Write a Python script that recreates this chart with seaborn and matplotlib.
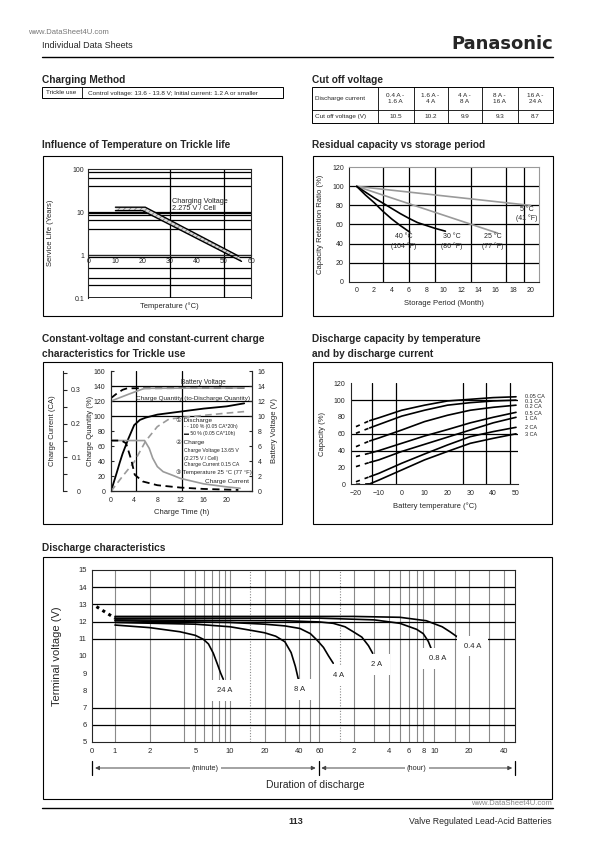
import matplotlib
matplotlib.use("Agg")
import matplotlib.pyplot as plt
import matplotlib.patches as mpatches
from matplotlib.lines import Line2D
import numpy as np
import seaborn as sns

W, H = 595, 842

# ---------------- data ----------------
cut_currents = ["0.4 A -\n1.6 A", "1.6 A -\n4 A", "4 A -\n8 A", "8 A -\n16 A", "16 A -\n24 A"]
cut_voltages = ["10.5", "10.2", "9.9", "9.3", "8.7"]

# trickle life (years) vs temperature
life_temp_upper = [10, 21, 55.5]
life_years_upper = [13, 13, 0.95]
life_temp_lower = [10, 20, 56.5]
life_years_lower = [10.8, 10.8, 0.72]
life_grid = [0.2, 0.3, 0.5, 0.9, 1, 4, 6.5, 8.5, 9.3, 10, 40, 62, 86]

# residual capacity (%) vs storage months
store_5c_m = [0, 20]
store_5c = [100, 80]
store_25c_m = [0, 16.2]
store_25c = [100, 51]
store_30c_m = [0, 1, 2, 3, 4, 5, 6, 7, 8, 9, 10.2]
store_30c = [100, 94, 88, 82.5, 77, 71.5, 66.5, 62, 59, 56, 53]
store_40c_m = [0, 1, 2, 3, 4, 5, 6.1]
store_40c = [100, 91, 83, 74, 66, 59, 52]

# charge characteristics (hours)
chg_cur100_h = [0, 5.8, 6.6, 7.2, 8, 9, 10.7, 12, 16, 20, 22.3]
chg_cur100 = [0.15, 0.15, 0.127, 0.098, 0.073, 0.058, 0.047, 0.038, 0.022, 0.013, 0.009]
chg_cur50_h = [0, 1.8, 2.6, 3.5, 4.1, 5.5, 8, 12, 16, 22]
chg_cur50 = [0.15, 0.15, 0.142, 0.093, 0.049, 0.029, 0.018, 0.011, 0.007, 0.004]
chg_q50_h = [0, 1, 1.5, 2, 3, 4, 5, 6, 8, 12, 16, 20, 23]
chg_q50 = [0, 25, 38, 50, 70, 88, 95, 98, 102, 106, 110, 113, 117]
chg_q100_h = [0, 2, 4, 6, 8, 10, 12, 16, 20, 23]
chg_q100 = [0, 20, 39, 67, 86, 96, 98, 101, 104, 106]
chg_v50_h = [0, 1, 2, 2.8, 23]
chg_v50 = [12.4, 13.0, 13.5, 13.7, 13.75]
chg_v100_h = [0, 3, 5.8, 23]
chg_v100 = [12.0, 12.9, 13.7, 13.75]

# discharge capacity (%) vs temperature
cap_temp = [-20, -14, -10, 0, 10, 20, 30, 40, 50]
cap_005 = [68.5, 75.6, 79, 88, 94, 99, 101, 103, 104]
cap_01 = [60.6, 67, 71, 81, 88, 94, 97, 99, 100]
cap_02 = [44.7, 51.5, 55, 64.5, 74.5, 82, 88, 91.5, 94]
cap_05 = [33, 37, 40, 48.7, 57.4, 65, 73, 79.6, 85.5]
cap_1 = [21, 26, 29, 39, 47.5, 56, 64.5, 73, 79.6]
cap_2 = [3, 9, 13, 25, 36, 46.7, 56.6, 62.6, 67.7]
cap_3 = [0, 0.5, 5, 17, 29, 39, 48.7, 54.6, 60]
cap_names = ["0.05 CA", "0.1 CA", "0.2 CA", "0.5 CA", "1 CA", "2 CA", "3 CA"]

# discharge characteristics (minutes, volts)
dis_start_t = [0.69, 1.0]
dis_start_v = [12.87, 12.2]
dis_24a_t = [1, 2, 3.67, 5, 5.87, 6.5, 7.16, 7.8, 8.3, 8.74]
dis_24a_v = [11.8, 11.65, 11.41, 11.2, 10.97, 10.7, 10.16, 9.5, 9.0, 8.65]
dis_8a_t = [1, 5, 10, 15, 20, 25, 30, 34, 37, 39.3]
dis_8a_v = [11.95, 11.85, 11.7, 11.5, 11.35, 11.15, 10.83, 10.2, 9.4, 8.65]
dis_4a_t = [1, 10, 20, 30, 40.6, 50, 57, 65, 72, 79]
dis_4a_v = [12.05, 11.95, 11.85, 11.75, 11.6, 11.3, 10.93, 10.5, 10.0, 9.58]
dis_2a_t = [1, 30, 60, 79, 100, 118, 140, 160, 174]
dis_2a_v = [12.1, 12.05, 11.98, 11.9, 11.7, 11.41, 11.1, 10.6, 10.16]
dis_08a_t = [1, 60, 180, 300, 420, 479, 530, 568]
dis_08a_v = [12.2, 12.2, 12.1, 11.9, 11.55, 11.3, 10.85, 10.35]
dis_04a_t = [1, 120, 300, 510, 700, 818, 1000, 1143]
dis_04a_v = [12.3, 12.3, 12.25, 12.05, 11.7, 11.41, 11.0, 10.7]
dis_labels = ["24 A", "8 A", "4 A", "2 A", "0.8 A", "0.4 A"]
dis_label_t = [9.04, 40, 87.7, 190, 638, 1280]
dis_label_v = [8.02, 8.06, 8.84, 9.53, 9.87, 10.58]
dis_ticks = [0.635, 1, 2, 5, 10, 20, 40, 60, 120, 240, 360, 480, 600, 1200, 2400]
dis_tick_labels = ["0", "1", "2", "5", "10", "20", "40", "60", "2", "4", "6", "8", "10", "20", "40"]
dis_grid = [1, 2, 4, 5, 6, 7, 8, 9, 10, 20, 30, 40, 50, 60, 120, 180, 240, 300,
            360, 420, 480, 600, 900, 1200, 1800, 2400]

# ---------------- setup ----------------
sns.set_style("white")
plt.rcParams['font.family'] = ['Liberation Sans', 'DejaVu Sans', 'Noto Sans CJK JP']
plt.rcParams['axes.linewidth'] = 0.8
plt.rcParams['hatch.linewidth'] = 0.6

fig = plt.figure(figsize=(W / 100, H / 100), dpi=100)


def add_ax(x0, y0, x1, y1):
    return fig.add_axes([x0 / W, 1 - y1 / H, (x1 - x0) / W, (y1 - y0) / H])


def ftext(x, y, s, **kw):
    kw.setdefault('va', 'center')
    fig.text(x / W, 1 - y / H, s, **kw)


def fline(xs, ys, **kw):
    kw.setdefault('color', 'k')
    kw.setdefault('lw', 0.8)
    fig.add_artist(Line2D([x / W for x in xs], [1 - y / H for y in ys],
                          transform=fig.transFigure, **kw))


def frect(x0, y0, x1, y1, lw=0.8):
    fig.add_artist(mpatches.Rectangle((x0 / W, 1 - y1 / H), (x1 - x0) / W, (y1 - y0) / H,
                                      transform=fig.transFigure, fill=False, lw=lw, ec='k'))


def line(ax, x, y, **kw):
    kw.setdefault('color', 'k')
    kw.setdefault('lw', 1.1)
    sns.lineplot(x=x, y=y, ax=ax, estimator=None, sort=False, legend=False, **kw)


TICK = 5
TITLE = 7.3

# ---------------- header ----------------
ftext(28, 33, "www.DataSheet4U.com", fontsize=5.5, color='#777777')
ftext(42, 46, "Individual Data Sheets", fontsize=6.5)
ftext(553, 44, "Panasonic", fontsize=13, fontweight='bold', ha='right',
      family=['DejaVu Sans'])
fline([42, 553], [57, 57], lw=1.0)

# charging method table
ftext(42, 80, "Charging Method", fontsize=TITLE, fontweight='bold')
frect(41.7, 87.3, 282.6, 98.3, lw=0.7)
fline([81.6, 81.6], [87.3, 98.3], lw=0.6)
ftext(61.6, 93, "Trickle use", fontsize=4.6, ha='center')
ftext(88, 93, "Control voltage: 13.6 - 13.8 V; Initial current: 1.2 A or smaller", fontsize=4.6)

# cut off table
ftext(312, 80, "Cut off voltage", fontsize=TITLE, fontweight='bold')
frect(311.8, 87.3, 553, 123.3, lw=0.7)
fline([311.8, 553], [110, 110], lw=0.6)
col_edges = [311.8, 377.5, 413.5, 447.6, 481.8, 517.8, 553]
for cx in col_edges[1:-1]:
    fline([cx, cx], [87.3, 123.3], lw=0.6)
ftext(315, 98.7, "Discharge current", fontsize=4.6)
ftext(315, 116.7, "Cut off voltage (V)", fontsize=4.6)
for i, (c, v) in enumerate(zip(cut_currents, cut_voltages)):
    mx = (col_edges[i + 1] + col_edges[i + 2]) / 2
    ftext(mx, 98.7, c, fontsize=4.6, ha='center', linespacing=1.3)
    ftext(mx, 116.7, v, fontsize=4.6, ha='center')

# ---------------- chart 1: trickle life ----------------
ftext(42, 145, "Influence of Temperature on Trickle life", fontsize=TITLE, fontweight='bold')
frect(42.7, 156, 282, 316)
ax1 = add_ax(88.3, 169, 251, 298.3)
ax1.set_yscale('log')
ax1.set_xlim(0, 60)
ax1.set_ylim(0.1, 100)
for v in life_grid:
    ax1.axhline(v, color='k', lw=0.9, zorder=1)
ax1.axhline(0.1, color='k', lw=1.2, zorder=1)
for v in [30, 50]:
    ax1.axvline(v, color='k', lw=0.9, zorder=1)
ax1.fill(np.r_[life_temp_upper, life_temp_lower[::-1]],
         np.r_[life_years_upper, life_years_lower[::-1]],
         facecolor='#d8d8d8', edgecolor='#7a7a7a', hatch='//////', lw=0, zorder=2)
line(ax1, life_temp_upper, life_years_upper, lw=1.0, zorder=3)
line(ax1, life_temp_lower, life_years_lower, lw=1.0, zorder=3)
ax1.spines['bottom'].set_position(('data', 1))
ax1.set_xticks(range(0, 61, 10))
ax1.set_xticklabels([str(v) for v in range(0, 61, 10)])
ax1.set_yticks([0.1, 1, 10, 100])
ax1.set_yticklabels(["0.1", "1", "10", "100"])
ax1.yaxis.set_minor_locator(matplotlib.ticker.LogLocator(subs=(2, 5)))
ax1.yaxis.set_minor_formatter(matplotlib.ticker.NullFormatter())
ax1.tick_params(axis='x', direction='in', length=3, width=0.8, labelsize=TICK, pad=2)
ax1.tick_params(axis='y', which='both', direction='in', length=2, width=0.8, labelsize=TICK, pad=3)
ax1.set_xlabel("")
ax1.set_ylabel("")
ax1.text(0.5, -0.06, "Temperature (°C)", transform=ax1.transAxes, ha='center', va='center',
         fontsize=5.5)
ftext(50, 233, "Service Life (Years)", fontsize=5.5, rotation=90, ha='center')
ax1.text(30.8, 14.5, "Charging Voltage\n2.275 V / Cell", fontsize=5.3, va='center',
         linespacing=1.1, zorder=4)

# ---------------- chart 2: residual capacity ----------------
ftext(312, 145, "Residual capacity vs storage period", fontsize=TITLE, fontweight='bold')
frect(312.7, 155.7, 553, 315.7)
ax2 = add_ax(349.3, 167.3, 539.3, 281.7)
ax2.set_xlim(-0.85, 21)
ax2.set_ylim(0, 120)
for v in [20, 40, 60, 80, 100]:
    ax2.axhline(v, color='k', lw=0.9, zorder=1)
for v in [3, 6, 9, 13.2, 17.2, 19.2]:
    ax2.axvline(v, color='k', lw=0.9, zorder=1)
line(ax2, store_5c_m, store_5c, color='#9a9a9a', lw=1.2)
line(ax2, store_25c_m, store_25c, color='#9a9a9a', lw=1.2)
line(ax2, store_30c_m, store_30c, lw=1.2)
line(ax2, store_40c_m, store_40c, lw=1.2)
for s in ['top', 'right']:
    ax2.spines[s].set_color('#9a9a9a')
ax2.set_xticks(range(0, 21, 2))
ax2.set_yticks(range(0, 121, 20))
ax2.tick_params(direction='in', length=3, width=0.8, labelsize=TICK, pad=4)
ax2.set_xlabel("Storage Period (Month)", fontsize=5.5, labelpad=4)
ax2.set_ylabel("Capacity Retention Ratio (%)", fontsize=5.5, labelpad=6)
for tx, ty, s in [(5.4, 42, "40 °C\n(104 °F)"), (10.9, 42, "30 °C\n(86 °F)"),
                  (15.6, 42, "25 °C\n(77 °F)"), (19.6, 71, "5 °C\n(41 °F)")]:
    ax2.text(tx, ty, s, fontsize=5, ha='center', va='center', linespacing=1.3)

# ---------------- chart 3: charge characteristics ----------------
ftext(42, 339, "Constant-voltage and constant-current charge", fontsize=TITLE, fontweight='bold')
ftext(42, 354, "characteristics for Trickle use", fontsize=TITLE, fontweight='bold')
frect(42.7, 362, 282, 524)
ax3 = add_ax(111, 371, 252.3, 491.3)
ax3.set_xlim(0, 24.4)
ax3.set_ylim(0, 160)
axv = ax3.twinx()
axv.set_ylim(0, 16)
axc = ax3.twinx()
axc.set_ylim(0, 160 / 450)
for v in [100, 120, 140]:
    ax3.axhline(v, color='k', lw=0.9, zorder=1)
for v in [4.3, 12.2]:
    ax3.axvline(v, color='k', lw=0.9, zorder=1)
line(ax3, chg_q50_h, chg_q50, lw=1.3)
line(ax3, chg_q100_h, chg_q100, color='#9a9a9a', lw=1.2, linestyle=(0, (4, 2.5)))
line(axv, chg_v50_h, chg_v50, lw=1.3, linestyle=(0, (4, 2.5)))
line(axv, chg_v100_h, chg_v100, color='#9a9a9a', lw=1.2)
line(axc, chg_cur100_h, chg_cur100, color='#9a9a9a', lw=1.2)
line(axc, chg_cur50_h, chg_cur50, lw=1.3, linestyle=(0, (4, 2.5)))
ax3.spines['top'].set_visible(False)
axv.spines['top'].set_visible(False)
axc.spines['top'].set_visible(False)
axc.spines['right'].set_visible(False)
axc.spines['left'].set_visible(True)
axc.spines['left'].set_position(('outward', 34.6))
axc.yaxis.set_ticks_position('left')
axc.yaxis.set_label_position('left')
axc.set_yticks([0, 0.1, 0.2, 0.3])
axc.set_yticklabels(["0", "0.1", "0.2", "0.3"])
axc.yaxis.set_minor_locator(matplotlib.ticker.FixedLocator([0.05, 0.15, 0.25, 0.35]))
axc.tick_params(axis='y', which='both', direction='in', length=3, width=0.8, labelsize=TICK,
                pad=-13)
ax3.set_xticks(range(0, 21, 4))
ax3.set_yticks(range(0, 161, 20))
axv.set_yticks(range(0, 17, 2))
ax3.tick_params(direction='in', length=2.5, width=0.8, labelsize=TICK, pad=4)
axv.tick_params(direction='in', length=2.5, width=0.8, labelsize=TICK, pad=4)
ax3.set_xlabel("Charge Time (h)", fontsize=5.5, labelpad=4)
ax3.set_ylabel("")
axv.set_ylabel("")
axc.set_ylabel("")
ftext(90, 431, "Charge Quantity (%)", fontsize=5.5, rotation=90, ha='center')
ftext(53, 431, "Charge Current (CA)", fontsize=5.5, rotation=90, ha='center')
ftext(275, 431, "Battery Voltage (V)", fontsize=5.5, rotation=90, ha='center')
ftext(203, 382.7, "Battery Voltage", fontsize=4.8, ha='center')
ftext(193, 398.3, "Charge Quantity (to-Discharge Quantity)", fontsize=4.6, ha='center')
ftext(176, 420.7, "① Discharge", fontsize=4.6)
ftext(184, 426.5, "- - 100 % (0.05 CA*20h)", fontsize=3.6)
ftext(184, 433.3, "▬ 50 % (0.05 CA*10h)", fontsize=3.6)
ftext(176, 442.7, "② Charge", fontsize=4.6)
ftext(184, 450.7, "Charge Voltage 13.65 V", fontsize=3.7)
ftext(184, 458.3, "(2.275 V / Cell)", fontsize=3.7)
ftext(184, 465, "Charge Current 0.15 CA", fontsize=3.7)
ftext(176, 472.7, "③ Temperature 25 °C (77 °F)", fontsize=4.2)
ftext(205, 481.7, "Charge Current", fontsize=4.6)

# ---------------- chart 4: discharge capacity by temperature ----------------
ftext(312, 339, "Discharge capacity by temperature", fontsize=TITLE, fontweight='bold')
ftext(312, 354, "and by discharge current", fontsize=TITLE, fontweight='bold')
frect(312.7, 362.3, 552.3, 524)
ax4 = add_ax(350.7, 383.3, 518.3, 484.3)
ax4.set_xlim(-22.3, 51)
ax4.set_ylim(0, 120)
for v in [40, 60, 100]:
    ax4.axhline(v, color='k', lw=0.9, zorder=1)
for v in [-13, -2.5, 27, 37, 47.5]:
    ax4.axvline(v, color='k', lw=0.9, zorder=1)
cap_series = [cap_005, cap_01, cap_02, cap_05, cap_1, cap_2, cap_3]
for vals in cap_series:
    line(ax4, cap_temp[:2], vals[:2], lw=1.2, linestyle=(0, (2.5, 3)))
    line(ax4, cap_temp[1:], vals[1:], lw=1.2)
for s in ['top', 'right']:
    ax4.spines[s].set_visible(False)
ax4.set_xticks(range(-20, 51, 10))
ax4.set_yticks(range(0, 121, 20))
ax4.tick_params(direction='in', length=2.5, width=0.8, labelsize=TICK, pad=4)
ax4.set_xlabel("Battery temperature (°C)", fontsize=5.5, labelpad=4)
ax4.set_ylabel("Capacity (%)", fontsize=5.5, labelpad=5)
for name, y in zip(cap_names, [396.7, 401.7, 407, 413.3, 418, 427.7, 434]):
    ftext(525, y, name, fontsize=4)

# ---------------- chart 5: discharge characteristics ----------------
ftext(42, 548, "Discharge characteristics", fontsize=TITLE, fontweight='bold')
frect(43.3, 557.3, 552, 799)
ax5 = add_ax(92.3, 570, 515, 742)
ax5.set_xscale('log')
ax5.set_xlim(0.635, 3008)
ax5.set_ylim(5, 15)
for v in dis_grid:
    ax5.axvline(v, color='#8a8a8a', lw=0.8, zorder=1)
for v in [15, 90]:
    ax5.axvline(v, color='#8a8a8a', lw=0.8, linestyle=(0, (1, 1.5)), zorder=1)
for v in [6, 7, 11, 12, 13, 14]:
    ax5.axhline(v, color='k', lw=0.9, zorder=1)
line(ax5, dis_start_t, dis_start_v, lw=2.2, linestyle=(0, (1, 1.3)))
for t, v in [(dis_24a_t, dis_24a_v), (dis_8a_t, dis_8a_v), (dis_4a_t, dis_4a_v),
             (dis_2a_t, dis_2a_v), (dis_08a_t, dis_08a_v), (dis_04a_t, dis_04a_v)]:
    line(ax5, t, v, lw=1.2, zorder=3)
for s, t, v in zip(dis_labels, dis_label_t, dis_label_v):
    ax5.text(t, v, s, fontsize=5.5, ha='center', va='center', zorder=4,
             bbox=dict(fc='white', ec='none', pad=5))
ax5.set_xticks(dis_ticks)
ax5.set_xticklabels(dis_tick_labels)
ax5.xaxis.set_minor_locator(matplotlib.ticker.NullLocator())
ax5.set_yticks(range(5, 16))
ax5.tick_params(length=0, labelsize=5.5, pad=4)
ax5.set_xlabel("")
ax5.set_ylabel("")
ftext(57, 656, "Terminal voltage (V)", fontsize=8, rotation=90, ha='center')

# duration arrows
for x0, x1, lab in [(92.3, 318.5, "(minute)"), (318.5, 515, "(hour)")]:
    fig.add_artist(mpatches.FancyArrowPatch((x0 / W, 1 - 768 / H), (x1 / W, 1 - 768 / H),
                                            transform=fig.transFigure, arrowstyle='<|-|>',
                                            mutation_scale=6, lw=0.7, color='#444444'))
    ftext((x0 + x1) / 2, 768, lab, fontsize=5.3, ha='center',
          bbox=dict(fc='white', ec='none', pad=1.5))
for bx in [92.3, 318.5, 515]:
    fline([bx, bx], [761, 775], lw=0.9)
ftext(315, 784.7, "Duration of discharge", fontsize=7.5, ha='center')

# ---------------- footer ----------------
fline([42, 553], [808, 808], lw=1.0)
ftext(552, 803.5, "www.DataSheet4U.com", fontsize=5.5, color='#888888', ha='right')
ftext(296, 821.5, "113", fontsize=6.5, fontweight='bold', ha='center')
ftext(552, 821.5, "Valve Regulated Lead-Acid Batteries", fontsize=6.3, ha='right')

fig.savefig("out.png", dpi=100)
